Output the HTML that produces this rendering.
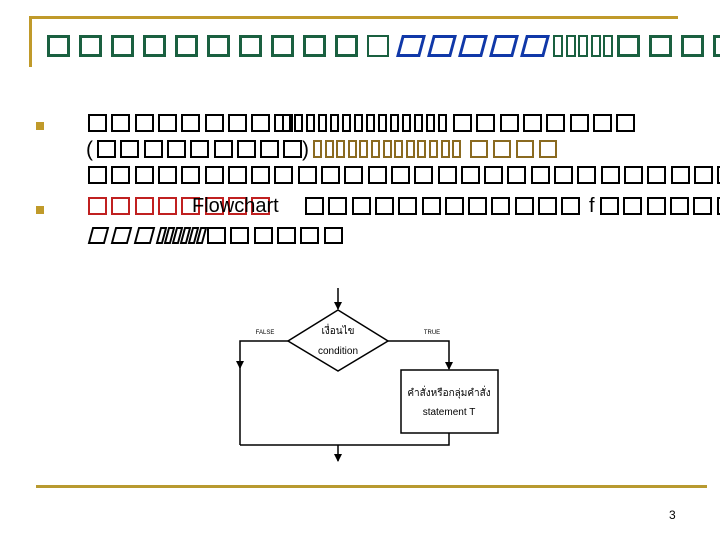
<!DOCTYPE html>
<html><head><meta charset="utf-8"><style>
body{margin:0;width:720px;height:540px;background:#fff;position:relative;overflow:hidden;font-family:"Liberation Sans","Noto Sans CJK SC",sans-serif}
.b{position:absolute;box-sizing:border-box;border:2px solid #000}
.t{position:absolute;white-space:nowrap;line-height:1}
</style></head><body>
<div style="position:absolute;left:29px;top:16px;width:649px;height:3px;background:#c09a2a"></div>
<div style="position:absolute;left:29px;top:16px;width:3px;height:51px;background:#c09a2a"></div>
<div style="position:absolute;left:36px;top:485px;width:671px;height:3px;background:#b89a30"></div>
<div style="position:absolute;left:36px;top:122px;width:8px;height:8px;background:#c09a2a"></div>
<div style="position:absolute;left:36px;top:206px;width:8px;height:8px;background:#c09a2a"></div>
<div id="bx"></div>
<div class="t" style="left:86px;top:139px;font-size:21px">(</div>
<div class="t" style="left:302px;top:139px;font-size:21px">)</div>
<div class="t" style="left:192px;top:196px;font-size:20px">Flowchart</div>
<div class="t" style="left:589px;top:196px;font-size:20px">f</div>
<div class="t" style="left:669px;top:509px;font-size:12px">3</div>
<svg width="720" height="540" style="position:absolute;left:0;top:0" font-family="Liberation Sans, Noto Sans CJK SC, sans-serif">
<defs><marker id="a" markerWidth="8" markerHeight="8" refX="7" refY="4" orient="auto" markerUnits="userSpaceOnUse"><path d="M0,0L8,4L0,8z"/></marker></defs>
<g stroke="#000" stroke-width="1.5" fill="none">
<line x1="338" y1="288" x2="338" y2="309" marker-end="url(#a)"/>
<polygon points="338,310 388,341 338,371 288,341" fill="#fff"/>
<polyline points="288,341 240,341 240,368" marker-end="url(#a)"/>
<line x1="240" y1="366" x2="240" y2="445"/>
<polyline points="388,341 449,341 449,369" marker-end="url(#a)"/>
<rect x="401" y="370" width="97" height="63" fill="#fff"/>
<polyline points="449,433 449,445 240,445"/>
<line x1="338" y1="445" x2="338" y2="461" marker-end="url(#a)"/>
</g>
<g font-size="10" text-anchor="middle" fill="#000">
<text x="338" y="334">เงื่อนไข</text>
<text x="338" y="354">condition</text>
<text x="449" y="396">คำสั่งหรือกลุ่มคำสั่ง</text>
<text x="449" y="415">statement T</text>
<text x="265" y="334" font-size="6">FALSE</text>
<text x="432" y="334" font-size="6">TRUE</text>
</g>
</svg>
<script>
var c=document.getElementById('bx'),h='';
function row(x0,n,p,w,y,ht,col,bw,sk){for(var i=0;i<n;i++){h+='<div class="b" style="left:'+(x0+i*p)+'px;top:'+y+'px;width:'+w+'px;height:'+ht+'px;border-color:'+col+';border-width:'+(bw||2)+'px;'+(sk?'transform:skewX(-15deg)':'')+'"></div>';}}
var G='#1a6040';
row(47,10,32,23,35,22,G,3);
row(367,1,0,22,35,22,G,2);
row(399,5,31,24,35,22,'#1038a8',3,1);
row(553,5,12.5,10,35,22,G,2);
row(617,4,32,23,35,22,G,3);
// row1
row(88,9,23.3,19,114,18,'#000');
row(282,14,12,9,114,18,'#000');
row(453,8,23.3,19,114,18,'#000');
// row2
row(97,9,23.3,19,140,18,'#000');
row(313,13,11.6,9,140,18,'#8a6a20');
row(470,4,23,18,140,18,'#8a6a20');
// row3
row(88,28,23.3,19,166,18,'#000');
// row4
row(88,8,23.3,19,197,18,'#c02020');
row(305,12,23.3,19,197,18,'#000');
row(600,6,23.3,19,197,18,'#000');
// row5
row(90,3,23,17,227,17,'#000',2,1);
row(158,6,8,7,227,17,'#000',2,1);
row(207,6,23.3,19,227,17,'#000');
c.innerHTML=h;
</script>
</body></html>
